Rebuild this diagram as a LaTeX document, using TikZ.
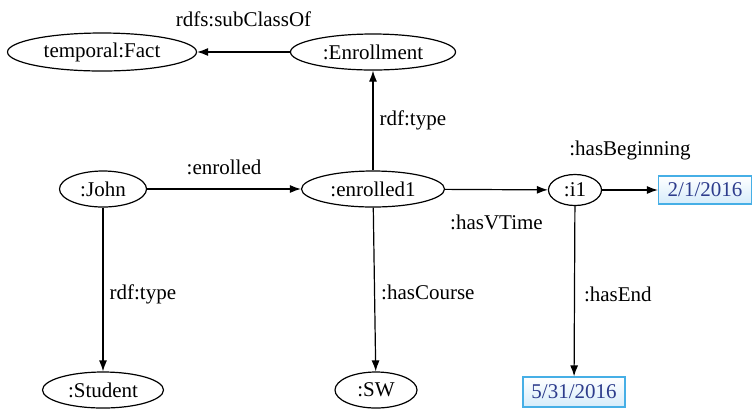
\documentclass[tikz,border=0pt]{standalone}
\usepackage{fontspec}
\setmainfont{Liberation Serif}
\usepackage{xcolor}
\usepackage{tikz}
\usetikzlibrary{shapes.geometric,arrows.meta}

\definecolor{datetext}{RGB}{45,60,140}
\definecolor{dateframe}{RGB}{70,175,230}
\definecolor{datefill}{RGB}{214,236,250}

\begin{document}
\begin{tikzpicture}[x=0.5pt, y=-0.5pt,
    font=\fontsize{10.5}{12}\selectfont,
    res/.style={draw, ellipse, line width=0.6pt, inner sep=0pt},
    lit/.style={draw=dateframe, line width=0.6pt, top color=white, bottom color=datefill, text=datetext, inner sep=0pt},
    link/.style={-{Latex[length=5.5pt,width=4pt]}, line width=0.6pt},
    lbl/.style={inner sep=0pt, text height=7pt, text depth=2pt}]
    \useasboundingbox (0,0) rectangle (754,409);

    % Classes
    \node[res, minimum width=94.5pt, minimum height=19pt] (fact) at (102,52) {temporal:Fact};
    \node[res, minimum width=82.5pt, minimum height=18pt] (enrollment) at (373,52) {:Enrollment};

    % Instances
    \node[res, minimum width=43.5pt, minimum height=18pt] (john) at (103,189) {:John};
    \node[res, minimum width=71.5pt, minimum height=18pt] (enrolled1) at (373,189) {:enrolled1};
    \node[res, minimum width=26.5pt, minimum height=15.5pt] (i1) at (575,190) {:i1};
    \node[res, minimum width=60.5pt, minimum height=18pt] (student) at (103,390) {:Student};
    \node[res, minimum width=41pt, minimum height=18pt] (sw) at (376,390) {:SW};

    % Literals
    \node[lit, minimum width=46.5pt, minimum height=14pt] (begin) at (705,190) {2/1/2016};
    \node[lit, minimum width=51pt, minimum height=15pt] (end) at (574,392) {5/31/2016};

    % Arrows
    \draw[link] (enrollment) -- node[lbl, above=10.5pt] {rdfs:subClassOf} (fact);
    \draw[link] (john) -- node[lbl, above=5pt] {:enrolled} (enrolled1);
    \draw[link] (enrolled1) -- node[lbl, right=3pt] {rdf:type} (enrollment);
    \draw[link] (enrolled1) -- node[lbl, below=12.5pt] {:hasVTime} (i1);
    \draw[link] (i1) -- node[lbl, above=15pt] {:hasBeginning} (begin);
    \draw[link] (john) -- node[lbl, right=3pt, pos=0.53] {rdf:type} (student);
    \draw[link] (enrolled1) -- node[lbl, right=3pt, pos=0.53] {:hasCourse} (sw);
    \draw[link] (i1) -- node[lbl, right=4.5pt, pos=0.53] {:hasEnd} (end);
\end{tikzpicture}
\end{document}
